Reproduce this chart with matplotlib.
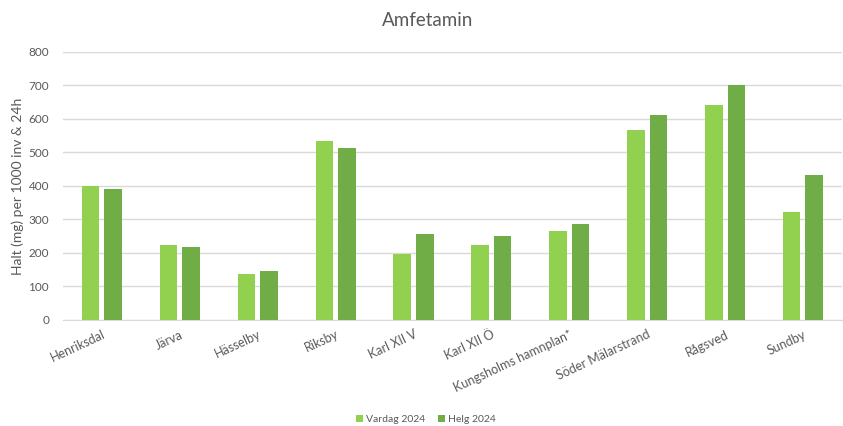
import matplotlib
matplotlib.use("Agg")
import matplotlib.pyplot as plt
import numpy as np

categories = ["Henriksdal", "Järva", "Hässelby", "Riksby", "Karl XII V", "Karl XII Ö",
              "Kungsholms hamnplan*", "Söder Mälarstrand", "Rågsved", "Sundby"]
vardag_2024 = [400, 225, 137, 533, 197, 223, 266, 568, 641, 323]
helg_2024 = [392, 218, 147, 513, 258, 251, 286, 613, 702, 433]
series_names = ["Vardag 2024", "Helg 2024"]
yticks = [0, 100, 200, 300, 400, 500, 600, 700, 800]

plt.rcParams['font.family'] = ['Lato', 'DejaVu Sans']

fig = plt.figure(figsize=(8.43, 4.26), dpi=100)
ax = fig.add_axes([0.0747, 0.249, 0.924, 0.629])

x = np.arange(len(categories))
w = 0.225
off = 0.145
ax.bar(x - off, vardag_2024, width=w, color="#92D050", label=series_names[0], zorder=3)
ax.bar(x + off, helg_2024, width=w, color="#70AD47", label=series_names[1], zorder=3)

ax.set_xlim(-0.5, len(categories) - 0.5)
ax.set_ylim(0, 800)
ax.set_yticks(yticks)
ax.yaxis.grid(True, color="#D9D9D9", linewidth=1, zorder=0)
for s in ["top", "right", "left"]:
    ax.spines[s].set_visible(False)
ax.spines["bottom"].set_color("#D9D9D9")
ax.tick_params(axis="both", length=0, colors="#595959", labelsize=8.5)
ax.tick_params(axis="y", pad=10)
ax.tick_params(axis="x", pad=6)
ax.set_xticks(x)
ax.set_xticklabels(categories, rotation=25, ha="right", rotation_mode="anchor", fontsize=9)
ax.set_ylabel("Halt (mg) per 1000 inv & 24h", color="#595959", fontsize=10, labelpad=3)

fig.text(0.507, 0.953, "Amfetamin", ha="center", va="center", fontsize=13.5, color="#595959")

leg = fig.legend(loc="center", bbox_to_anchor=(0.505, 0.015), ncol=2, frameon=False,
                 fontsize=7.5, handlelength=0.7, handleheight=0.7, handletextpad=0.3,
                 columnspacing=1.2, labelcolor="#595959")

fig.savefig("out.png", dpi=100)
